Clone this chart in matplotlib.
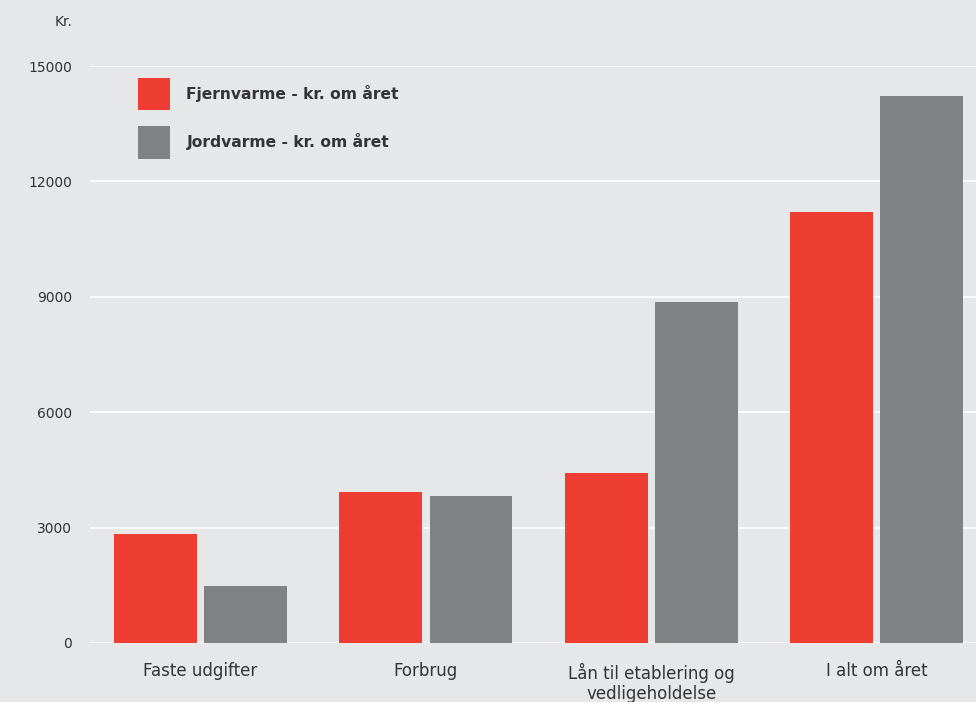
import numpy as np
import matplotlib.pyplot as plt

# Udgifter til opvarmning, kr. om året
kategorier = ['Faste udgifter', 'Forbrug', 'Lån til etablering og\nvedligeholdelse', 'I alt om året']
fjernvarme = [2830, 3925, 4420, 11200]
jordvarme = [1480, 3820, 8860, 14220]
y_ticks = [0, 3000, 6000, 9000, 12000, 15000]

RED = '#ee3d33'
GRAY = '#808184'
BG = '#e6e7e9'
TXT = '#333333'

fig = plt.figure(figsize=(9.76, 7.02), dpi=100, facecolor=BG)
ax = fig.add_axes([90 / 976, 59 / 702, 1 - 90 / 976, 577 / 702])
ax.set_facecolor(BG)

x = np.arange(len(kategorier))
w = 0.368
ax.bar(x - 0.2, fjernvarme, w, color=RED, label='Fjernvarme - kr. om året', zorder=3)
ax.bar(x + 0.2, jordvarme, w, color=GRAY, label='Jordvarme - kr. om året', zorder=3)

ax.set_xlim(-0.49, 3.44)
ax.set_ylim(0, 15000)
ax.set_yticks(y_ticks)
ax.set_yticklabels([str(t) for t in y_ticks], fontsize=10, color=TXT)
ax.set_xticks(x)
ax.set_xticklabels(kategorier, fontsize=12, color=TXT, linespacing=1.2)
ax.tick_params(axis='y', length=0, pad=13)
ax.tick_params(axis='x', length=0, pad=14)
ax.grid(axis='y', color='white', linewidth=1.2, zorder=0)
for s in ax.spines.values():
    s.set_visible(False)

leg = ax.legend(loc='upper left', bbox_to_anchor=(0.038, 1.0035), frameon=False,
                handlelength=2.08, handleheight=2.8, labelspacing=1.05,
                handletextpad=1.05, prop={'size': 11.2, 'weight': 'bold'})
for t in leg.get_texts():
    t.set_color(TXT)

fig.text(72 / 976, 1 - 22 / 702, 'Kr.', ha='right', va='center', fontsize=10, color=TXT)

fig.savefig('out.png', dpi=100, facecolor=BG)
